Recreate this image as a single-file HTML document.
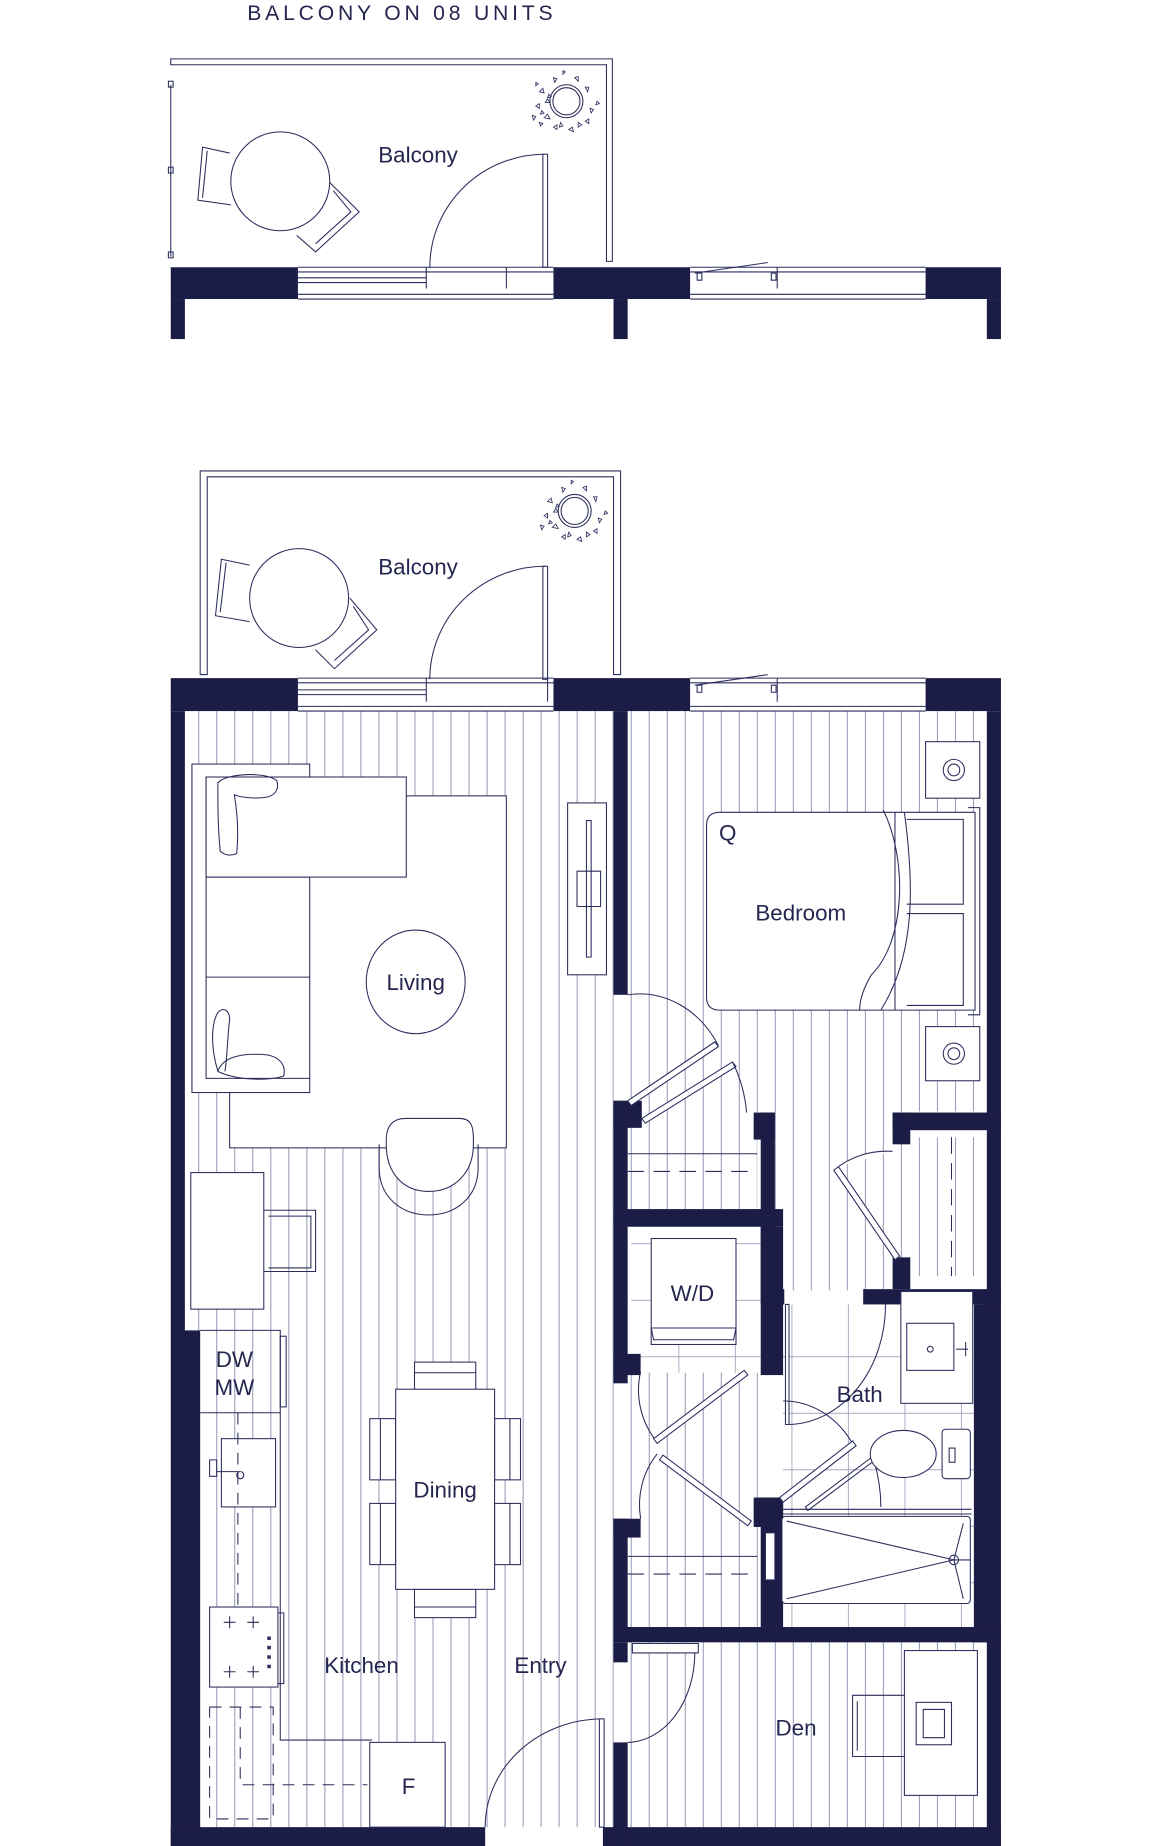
<!DOCTYPE html>
<html><head><meta charset="utf-8"><style>
html,body{margin:0;padding:0;background:#fff;}
svg{display:block;}
text{font-family:"Liberation Sans",sans-serif;fill:#24264f;}
</style></head><body>
<svg width="1167" height="1846" viewBox="0 0 991 1568" preserveAspectRatio="none" xmlns="http://www.w3.org/2000/svg">
<defs>
<pattern id="pl" x="0" y="0" width="15.3" height="20" patternUnits="userSpaceOnUse">
<line x1="0.5" y1="0" x2="0.5" y2="20" stroke="#7d7fa0" stroke-width="0.7"/>
</pattern>
<pattern id="tl" x="0" y="0" width="48" height="48" patternUnits="userSpaceOnUse">
<path d="M0 .5H48M.5 0V48" stroke="#9b9cb6" stroke-width="0.7" fill="none"/>
</pattern>
</defs>
<g stroke="#2b2d5c" stroke-width="0.9" fill="none">

<text x="210" y="17" font-size="18" letter-spacing="3.2" stroke="none">BALCONY ON 08 UNITS</text>

<!-- ===== TOP BALCONY ===== -->
<path d="M145 50H520V222H515V55H145Z"/>
<line x1="145" y1="72" x2="145" y2="218"/>
<rect x="143" y="69" width="4" height="5"/><rect x="143" y="142" width="4" height="5"/><rect x="143" y="214" width="4" height="5"/>
<circle cx="238" cy="154" r="42" fill="#fff"/>
<path d="M195 130L172 125 168 170 196 174M176 128L172 168"/>
<path d="M280 155L305 180 268 214 252 200M283 162L298 180 268 207"/>
<text x="355" y="138" font-size="19" text-anchor="middle" stroke="none">Balcony</text>
<path d="M463 131A98 96 0 0 0 365 227"/>
<rect x="461" y="131" width="4" height="96" fill="#fff"/>
<circle cx="481" cy="86" r="14"/><circle cx="481" cy="86" r="11.5"/>
<g stroke-width="0.7">
<path d="M458 78l3-3 1 4zM455 90l3-2 0 4zM462 100l3-3 2 4zM470 108l3-2 0 4zM483 110l3-2 1 4zM497 103l3-2 0 4zM501 92l3 1-2 3zM497 74l3 0-1 4zM488 66l3-1 0 4zM470 66l3 1-2 3zM463 87l2-3 2 3zM476 104l2 3-3 1zM491 104l3 2-3 2zM452 98l3 1-2 3zM507 86l2 2-3 1zM478 60l2 1-2 2zM455 70l2 1-2 2zM460 94l2 2-3 1zM466 80l2 2-3 1zM458 104l3 1-2 2z"/>
</g>
<g fill="#1c1d47" stroke="none">
<rect x="145" y="227" width="108" height="27"/><rect x="470" y="227" width="116" height="27"/><rect x="786" y="227" width="64" height="27"/>
<rect x="145" y="254" width="12" height="34"/><rect x="521" y="254" width="12" height="34"/><rect x="838" y="254" width="12" height="34"/>
</g>
<path d="M253 227H470M253 231H470M253 250H470M253 254H470M253 236H362M253 240H362M362 227V245M430 227V245M586 227H786M586 231H786M586 250H786M586 254H786M660 227V245"/>
<path d="M590 232l62-9M592 232v6h4v-6zM655 232v6h4v-6z"/>

<!-- ===== BOTTOM BALCONY ===== -->
<path d="M170 573V400H527V573H521V405H176V573Z"/>
<circle cx="254" cy="508" r="42" fill="#fff"/>
<path d="M212 480L188 475 183 523 212 528M192 478L187 520"/>
<path d="M297 508L320 535 284 568 268 552M300 515L313 535 284 561"/>
<text x="355" y="488" font-size="19" text-anchor="middle" stroke="none">Balcony</text>
<path d="M463 481A98 96 0 0 0 365 577"/>
<rect x="461" y="481" width="4" height="96" fill="#fff"/>
<circle cx="488" cy="434" r="14"/><circle cx="488" cy="434" r="11.5"/>
<g stroke-width="0.7">
<path d="M465 426l3-3 1 4zM462 438l3-2 0 4zM469 448l3-3 2 4zM477 456l3-2 0 4zM490 458l3-2 1 4zM504 451l3-2 0 4zM508 440l3 1-2 3zM504 422l3 0-1 4zM495 414l3-1 0 4zM477 414l3 1-2 3zM470 435l2-3 2 3zM483 452l2 3-3 1zM498 452l3 2-3 2zM459 446l3 1-2 3zM514 434l2 2-3 1zM485 408l2 1-2 2zM467 442l2 2-3 1zM473 428l2 2-3 1z"/>
</g>

<!-- ===== UNIT FLOOR ===== -->
<rect x="157" y="604" width="364" height="948" fill="url(#pl)" stroke="none"/>
<rect x="533" y="604" width="305" height="340" fill="url(#pl)" stroke="none"/>
<rect x="533" y="944" width="110" height="86" fill="url(#pl)" stroke="none"/>
<rect x="658" y="944" width="110" height="152" fill="url(#pl)" stroke="none"/>
<rect x="533" y="1165" width="112" height="220" fill="url(#pl)" stroke="none"/>
<rect x="533" y="1395" width="305" height="157" fill="url(#pl)" stroke="none"/>
<rect x="776" y="966" width="62" height="118" fill="url(#pl)" stroke="none"/>
<rect x="665" y="1108" width="168" height="274" fill="#fff" stroke="none"/>
<rect x="665" y="1108" width="168" height="274" fill="url(#tl)" stroke="none"/>
<rect x="536" y="1054" width="110" height="112" fill="#fff" stroke="none"/>
<rect x="536" y="1054" width="110" height="112" fill="url(#tl)" stroke="none"/>

<g fill="#1c1d47" stroke="none">
<rect x="145" y="576" width="108" height="28"/><rect x="470" y="576" width="116" height="28"/><rect x="786" y="576" width="64" height="28"/>
<polygon points="145,604 157,604 157,1130 170,1130 170,1568 145,1568"/>
<polygon points="838,604 850,604 850,1568 838,1568 838,1395 827,1395 827,1108 838,1108"/>
<rect x="145" y="1552" width="267" height="16"/><rect x="512" y="1552" width="338" height="16"/>
<rect x="521" y="604" width="12" height="241"/>
<rect x="521" y="935" width="24" height="23"/><rect x="521" y="935" width="12" height="240"/>
<rect x="640" y="945" width="18" height="23"/><rect x="646" y="945" width="12" height="150"/>
<rect x="521" y="1027" width="144" height="15"/>
<rect x="646" y="1042" width="19" height="126"/>
<rect x="521" y="1150" width="23" height="18"/>
<rect x="758" y="945" width="92" height="15"/><rect x="758" y="945" width="15" height="27"/>
<rect x="758" y="1068" width="15" height="27"/><rect x="733" y="1095" width="117" height="13"/>
<rect x="646" y="1095" width="20" height="13"/>
<rect x="521" y="1290" width="23" height="16"/><rect x="521" y="1290" width="12" height="95"/>
<rect x="640" y="1272" width="25" height="25"/><rect x="646" y="1272" width="19" height="113"/>
<rect x="521" y="1382" width="329" height="13"/>
<rect x="521" y="1395" width="12" height="17"/>
<rect x="521" y="1480" width="12" height="88"/>
</g>
<path d="M253 576H470M253 580H470M253 600H470M253 604H470M253 586H362M253 590H362M362 576V596M465 576V596M586 576H786M586 580H786M586 600H786M586 604H786M660 576V596"/>
<path d="M590 582l62-9M592 582v6h4v-6zM655 582v6h4v-6z"/>

<!-- ===== LIVING ===== -->
<rect x="195" y="676" width="235" height="299" fill="#fff"/>
<rect x="163" y="649" width="100" height="279" fill="#fff"/>
<path d="M175 660V916H263M175 745H263M175 830H263"/>
<rect x="175" y="660" width="170" height="85" fill="#fff"/>
<path d="M185 665c6-8 40-10 50-2 2 6 0 12-8 14-10 2-24 0-28-2 2 12 4 30 2 50-4 2-10 2-14-2-2-20-2-40-2-58z"/>
<path d="M185 910c4-12 20-16 42-14 10 2 16 8 14 18-12 4-40 4-56-4zM185 910c-6-20-6-40 0-50 6-6 10 0 10 6-2 16-2 32-4 44"/>
<ellipse cx="353" cy="834" rx="42" ry="44"/>
<text x="353" y="841" font-size="19" text-anchor="middle" stroke="none">Living</text>
<path d="M328 968c0-12 6-18 16-18h46c10 0 12 6 12 18v4c0 24-16 40-38 40s-36-16-36-40z" fill="#fff"/>
<path d="M322 972v20c0 24 18 40 42 40s42-16 42-40v-20"/>
<rect x="482" y="682" width="33" height="146" fill="#fff"/>
<path d="M498 697v116h4V697zM490 740h20v30h-20z"/>

<rect x="162" y="996" width="62" height="116" fill="#fff"/>
<path d="M224 1028h44v52h-44M228 1033h36v44h-36"/>

<!-- ===== KITCHEN ===== -->
<path d="M170 1130H238V1478H316M170 1200H238M238 1130v70"/>
<rect x="238" y="1135" width="5" height="60"/>
<text x="199" y="1161" font-size="19" text-anchor="middle" stroke="none">DW</text>
<text x="199" y="1185" font-size="19" text-anchor="middle" stroke="none">MW</text>
<rect x="188" y="1222" width="46" height="58" fill="#fff"/>
<path d="M204 1250h-20M178 1240v14h6v-14zM204 1250a3 3 0 1 0 .1 0"/>
<path d="M202 1200V1365" stroke-dasharray="10 7"/>
<rect x="178" y="1365" width="58" height="68" fill="#fff"/>
<path d="M190 1378h10M195 1373v10M210 1378h10M215 1373v10M190 1420h10M195 1415v10M210 1420h10M215 1415v10M236 1370h5v60h-5"/>
<g fill="#2b2d5c" stroke="none"><rect x="227" y="1390" width="3" height="3"/><rect x="227" y="1398" width="3" height="3"/><rect x="227" y="1406" width="3" height="3"/><rect x="227" y="1414" width="3" height="3"/></g>
<path d="M178 1450h54v95h-54zM204 1450v66h108" stroke-dasharray="10 7"/>
<rect x="314" y="1480" width="64" height="72" fill="#fff"/>
<text x="347" y="1524" font-size="19" text-anchor="middle" stroke="none">F</text>
<text x="307" y="1421" font-size="19" text-anchor="middle" stroke="none">Kitchen</text>
<text x="459" y="1421" font-size="19" text-anchor="middle" stroke="none">Entry</text>

<!-- ===== DINING ===== -->
<g fill="#fff">
<rect x="352" y="1157" width="52" height="24"/><rect x="352" y="1350" width="52" height="24"/>
<rect x="314" y="1205" width="22" height="52"/><rect x="314" y="1277" width="22" height="52"/>
<rect x="420" y="1205" width="22" height="52"/><rect x="420" y="1277" width="22" height="52"/>
<rect x="336" y="1180" width="84" height="170"/>
</g>
<path d="M352 1166h52M352 1365h52M323 1205v52M323 1277v52M433 1205v52M433 1277v52"/>
<text x="378" y="1272" font-size="19" text-anchor="middle" stroke="none">Dining</text>

<path d="M512 1460A100 92 0 0 0 412 1552"/>
<rect x="509" y="1460" width="4" height="92" fill="#fff"/>

<!-- ===== BEDROOM ===== -->
<rect x="786" y="630" width="46" height="48" fill="#fff"/><circle cx="810" cy="654" r="9"/><circle cx="810" cy="654" r="5"/>
<rect x="786" y="872" width="46" height="46" fill="#fff"/><circle cx="810" cy="895" r="9"/><circle cx="810" cy="895" r="5"/>
<path d="M611 690h217v168H611q-11 0-11-11V701q0-11 11-11z" fill="#fff"/>
<path d="M822 686h10v176h-10M760 690v168M770 696h48v72h-48M770 776h48v78h-48"/>
<path d="M750 688c20 40 20 110-10 140-6 10-10 20-10 30M768 690c8 60 10 120-20 168"/>
<text x="618" y="714" font-size="19" text-anchor="middle" stroke="none">Q</text>
<text x="680" y="782" font-size="19" text-anchor="middle" stroke="none">Bedroom</text>
<path d="M533 845A78 90 0 0 1 610 888"/>
<path d="M533 935l74-50 3 4-74 50zM545 950l77-48 3 4-77 48z" fill="#fff"/>
<path d="M622 902q10 20 12 43"/>
<path d="M533 995h110" stroke-dasharray="14 8"/><path d="M533 980h110"/>
<path d="M758 978a70 70 0 0 0-50 16l52 76 4-3-52-76" fill="#fff"/>
<path d="M808 966v118" stroke-dasharray="14 8"/>

<rect x="553" y="1052" width="72" height="90" fill="#fff"/>
<path d="M553 1128h72l-2 10h-68z"/>
<text x="588" y="1105" font-size="19" text-anchor="middle" stroke="none">W/D</text>
<path d="M544 1165a70 70 0 0 0 14 60" /><path d="M555 1222l77-58 3 4-77 58z" fill="#fff"/>
<path d="M544 1290a70 70 0 0 1 14-55"/><path d="M560 1240l75 56 3-4-75-56z" fill="#fff"/>
<path d="M533 1337h110" stroke-dasharray="14 8"/><path d="M533 1322h110"/>

<!-- ===== BATH ===== -->
<path d="M667 1108h3v102h-3z" fill="#fff"/>
<path d="M670 1210a84 102 0 0 0 82-102"/>
<rect x="765" y="1097" width="61" height="95" fill="#fff"/>
<rect x="770" y="1124" width="40" height="40"/><circle cx="790" cy="1146" r="2.5"/><path d="M812 1146h10M820 1140v12"/>
<text x="730" y="1191" font-size="19" text-anchor="middle" stroke="none">Bath</text>
<path d="M665 1190a70 80 0 0 1 60 38"/>
<path d="M662 1272l62-48 3 4-62 48z" fill="#fff"/>
<path d="M684 1280l56-42 2 3-56 42zM742 1240q6 20 6 40"/>
<ellipse cx="767" cy="1235" rx="28" ry="20" fill="#fff"/>
<rect x="800" y="1214" width="24" height="42" rx="3" fill="#fff"/><rect x="806" y="1230" width="5" height="12"/>
<path d="M665 1282h160M665 1286h160"/>
<rect x="664" y="1288" width="160" height="74" rx="3" fill="#fff"/>
<path d="M668 1292l142 33-142 33M818 1294l-8 31 8 33M810 1325h14"/><circle cx="810" cy="1325" r="4"/>
<rect x="650" y="1302" width="8" height="40" fill="#fff"/>

<!-- ===== DEN ===== -->
<path d="M537 1396h56v8h-56z" fill="#fff"/>
<path d="M590 1404A58 76 0 0 1 533 1480"/>
<rect x="768" y="1402" width="62" height="123" fill="#fff"/>
<path d="M768 1440h-44v52h44M728 1445v42"/>
<rect x="778" y="1446" width="30" height="36"/><path d="M784 1452h18v24h-18z"/>
<text x="676" y="1474" font-size="19" text-anchor="middle" stroke="none">Den</text>
</g>
</svg>
</body></html>
